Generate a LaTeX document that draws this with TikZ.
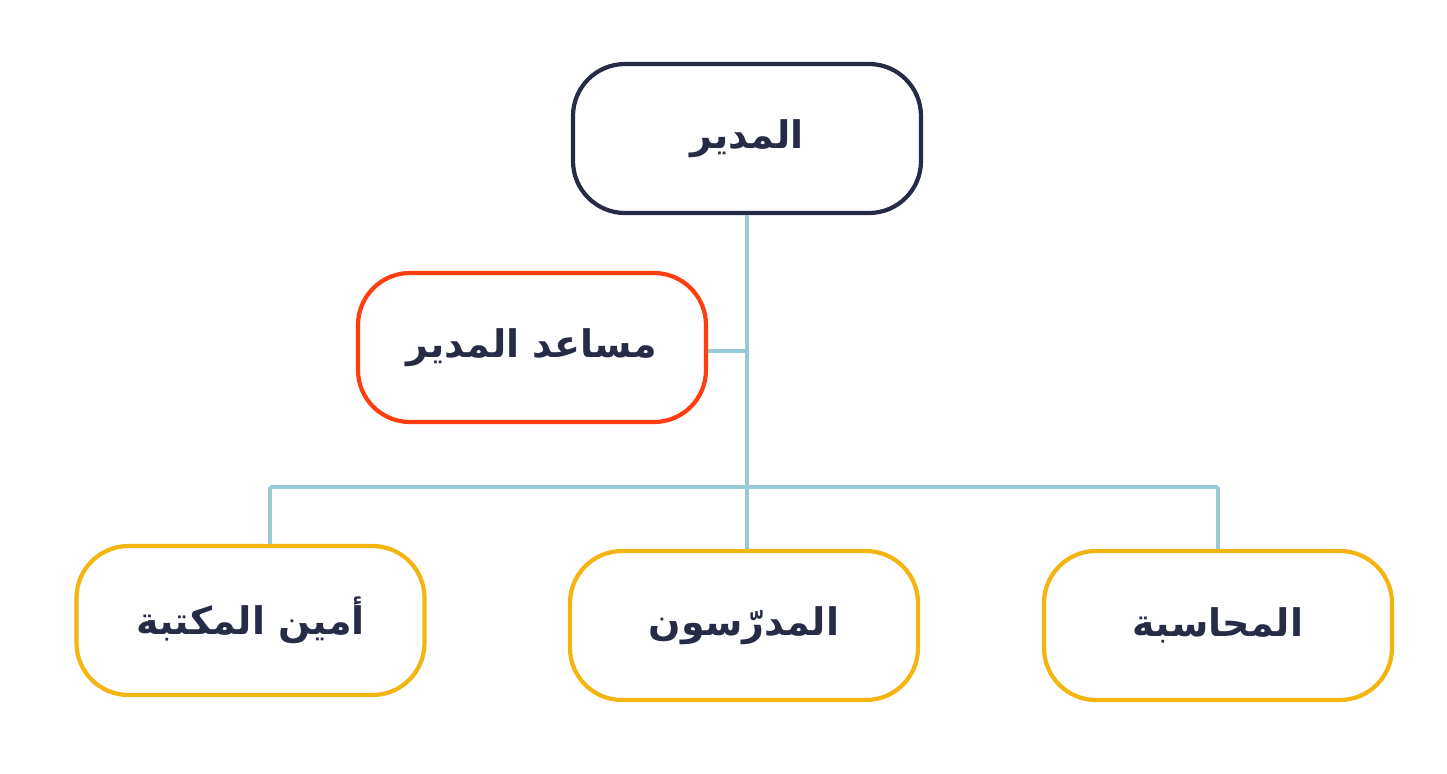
\documentclass[tikz,border=0pt]{standalone}
\usepackage{fontspec}
\TeXXeTstate=1
\newfontfamily\arabicfont[Script=Arabic]{DejaVu Sans}
\definecolor{navy}{HTML}{262C45}
\definecolor{redorange}{HTML}{FF3D0F}
\definecolor{gold}{HTML}{F5B511}
\definecolor{linkblue}{HTML}{98C9D6}
\tikzset{
  box/.style={draw, line width=2.1pt, rounded corners=26pt, minimum width=174pt, minimum height=74.5pt, fill=white, text=navy, font=\arabicfont\bfseries\fontsize{19}{22}\selectfont},
  topbox/.style={box, draw=navy},
  asstbox/.style={box, draw=redorange},
  unitbox/.style={box, draw=gold},
  link/.style={draw=linkblue, line width=2pt}
}
\begin{document}
\begin{tikzpicture}[x=0.5pt,y=-0.5pt]
\useasboundingbox (0,0) rectangle (1447,773);
\coordinate (trunkjoin) at (747,487);
\coordinate (asstjoin) at (747,351);
\coordinate (leftjoin) at (270,487);
\coordinate (rightjoin) at (1218,487);
\node[topbox] (dir) at (747,138.5) {\beginR المدير\endR};
\node[asstbox] (asst) at (532,347.5) {\beginR مساعد المدير\endR};
\node[unitbox] (lib) at (250.5,620.5) {\beginR أمين المكتبة\endR};
\node[unitbox] (teach) at (744,625.5) {\beginR المدرّسون\endR};
\node[unitbox] (acc) at (1218,625.5) {\beginR المحاسبة\endR};
\draw[link] (trunkjoin |- dir.south) -- (trunkjoin) -- (trunkjoin |- teach.north);
\draw[link] (asst.east |- asstjoin) -- (asstjoin);
\draw[link] (leftjoin) -- (rightjoin);
\draw[link] (leftjoin) -- (leftjoin |- lib.north);
\draw[link] (rightjoin) -- (acc.north);
\end{tikzpicture}
\end{document}
